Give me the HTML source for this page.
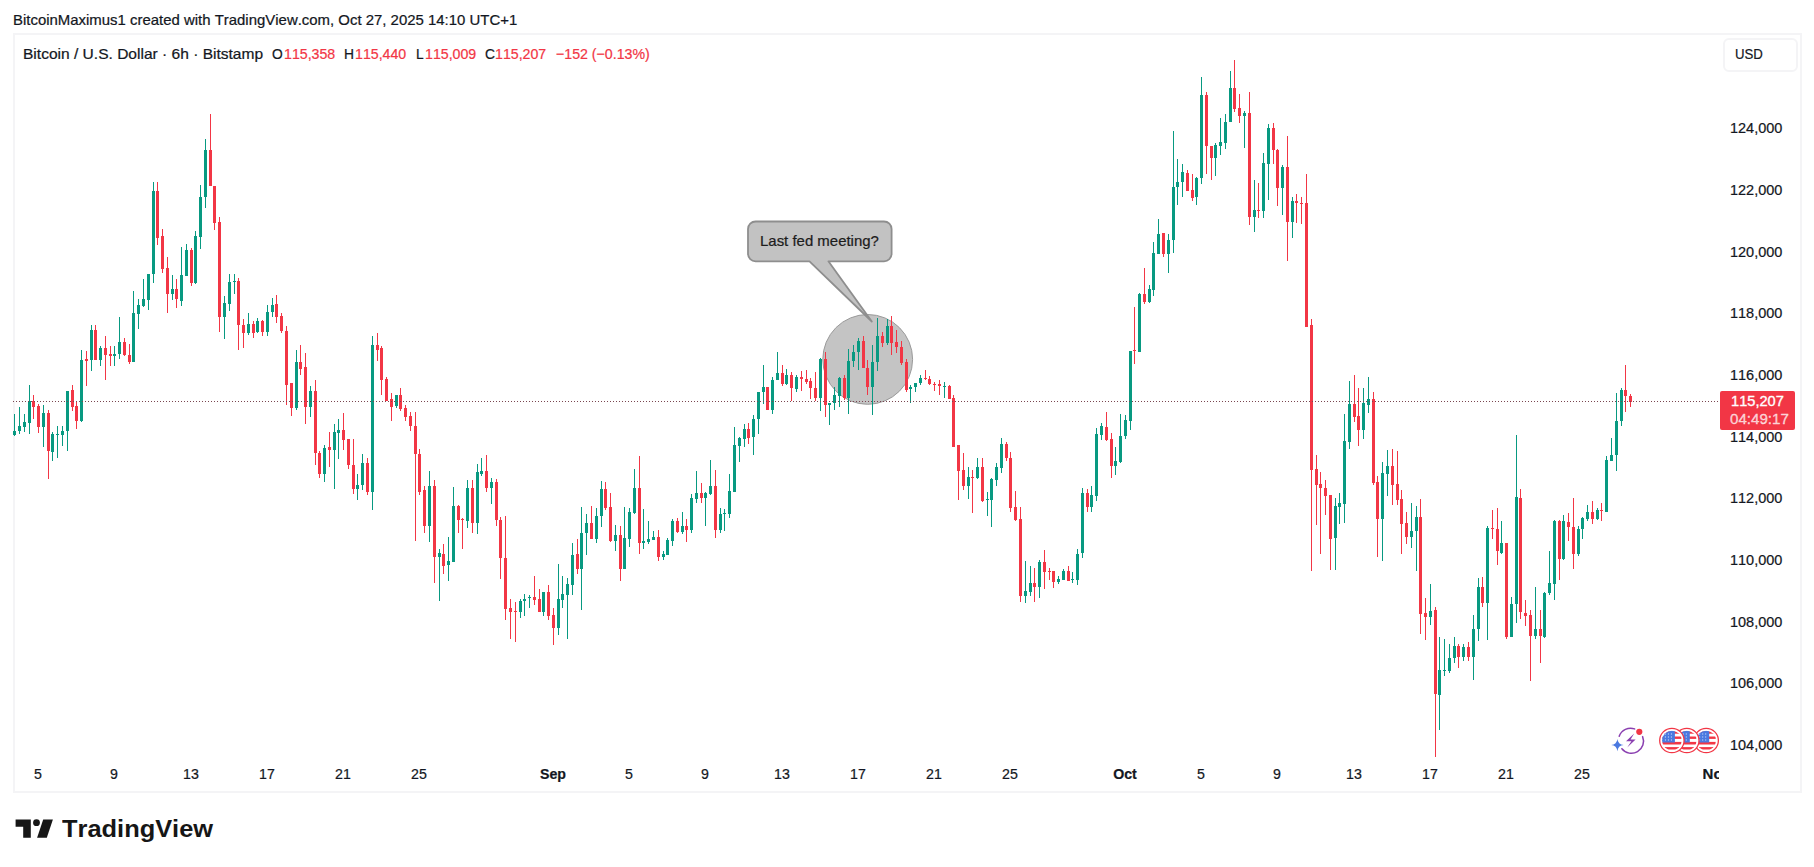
<!DOCTYPE html>
<html><head><meta charset="utf-8"><title>BTCUSD chart</title>
<style>
html,body{margin:0;padding:0;background:#fff;}
body{width:1814px;height:867px;position:relative;overflow:hidden;font-family:"Liberation Sans",sans-serif;}
.t{position:absolute;white-space:nowrap;font-kerning:none;-webkit-text-stroke:0.22px currentColor;}
#plv,#plt{-webkit-text-stroke:0.35px currentColor;}
#logo{-webkit-text-stroke:0;}
#frame{position:absolute;left:12.5px;top:33px;width:1785.5px;height:756px;border:2px solid #f4f4f6;}
#usdbox{position:absolute;left:1723px;top:38px;width:71px;height:30px;border:2px solid #f4f4f6;border-radius:6px;}
#plabel{position:absolute;left:1720px;top:391px;width:75px;height:38.6px;background:#f23645;border-radius:2px;}
#dots{position:absolute;left:13px;top:401px;width:1707px;height:1px;background:repeating-linear-gradient(90deg,#7a4650 0,#7a4650 1px,transparent 1px,transparent 3px);}
svg{position:absolute;left:0;top:0;}
#tclip{position:absolute;left:0;top:0;width:1814px;height:867px;}
#tnov{width:16.6px;overflow:hidden;}
</style></head><body>
<div id="frame"></div>
<div id="usdbox"></div>
<svg width="1814" height="867" viewBox="0 0 1814 867" shape-rendering="crispEdges">
<g shape-rendering="geometricPrecision">
<circle cx="867.7" cy="359.4" r="44.9" fill="#c4c4c4" stroke="#9a9a9a" stroke-width="1"/>
<path d="M755.6,221.5 H884 a7.6,7.6 0 0 1 7.6,7.6 v24.6 a7.6,7.6 0 0 1 -7.6,7.6 H828.4 L871.8,321.5 L809.5,261.3 H755.6 a7.6,7.6 0 0 1 -7.6,-7.6 v-24.6 a7.6,7.6 0 0 1 7.6,-7.6 z" fill="#c2c2c2" stroke="#8e8e8e" stroke-width="1.8" stroke-linejoin="round"/>
</g>
<clipPath id="cc"><rect x="13" y="35" width="1707" height="756"/></clipPath>
<g clip-path="url(#cc)">
<rect x="14" y="414" width="1" height="22" fill="#089981"/>
<rect x="13" y="431" width="3" height="4" fill="#089981"/>
<rect x="19" y="407" width="1" height="27" fill="#089981"/>
<rect x="18" y="426" width="3" height="5" fill="#089981"/>
<rect x="24" y="414" width="1" height="18" fill="#089981"/>
<rect x="23" y="422" width="3" height="5" fill="#089981"/>
<rect x="29" y="385" width="1" height="49" fill="#089981"/>
<rect x="28" y="401" width="3" height="22" fill="#089981"/>
<rect x="33" y="395" width="1" height="24" fill="#f23645"/>
<rect x="32" y="401" width="3" height="6" fill="#f23645"/>
<rect x="38" y="404" width="1" height="29" fill="#f23645"/>
<rect x="37" y="406" width="3" height="21" fill="#f23645"/>
<rect x="43" y="405" width="1" height="42" fill="#089981"/>
<rect x="42" y="413" width="3" height="14" fill="#089981"/>
<rect x="48" y="410" width="1" height="69" fill="#f23645"/>
<rect x="47" y="413" width="3" height="38" fill="#f23645"/>
<rect x="52" y="432" width="1" height="29" fill="#089981"/>
<rect x="51" y="434" width="3" height="18" fill="#089981"/>
<rect x="57" y="426" width="1" height="32" fill="#089981"/>
<rect x="56" y="434" width="3" height="1" fill="#089981"/>
<rect x="62" y="426" width="1" height="20" fill="#089981"/>
<rect x="61" y="431" width="3" height="4" fill="#089981"/>
<rect x="67" y="391" width="1" height="60" fill="#089981"/>
<rect x="66" y="391" width="3" height="40" fill="#089981"/>
<rect x="72" y="385" width="1" height="26" fill="#f23645"/>
<rect x="71" y="390" width="3" height="17" fill="#f23645"/>
<rect x="76" y="401" width="1" height="28" fill="#f23645"/>
<rect x="75" y="406" width="3" height="15" fill="#f23645"/>
<rect x="81" y="350" width="1" height="72" fill="#089981"/>
<rect x="80" y="360" width="3" height="61" fill="#089981"/>
<rect x="86" y="351" width="1" height="35" fill="#f23645"/>
<rect x="85" y="359" width="3" height="2" fill="#f23645"/>
<rect x="91" y="325" width="1" height="46" fill="#089981"/>
<rect x="90" y="330" width="3" height="30" fill="#089981"/>
<rect x="95" y="325" width="1" height="35" fill="#f23645"/>
<rect x="94" y="330" width="3" height="30" fill="#f23645"/>
<rect x="100" y="346" width="1" height="20" fill="#089981"/>
<rect x="99" y="348" width="3" height="12" fill="#089981"/>
<rect x="105" y="336" width="1" height="44" fill="#f23645"/>
<rect x="104" y="348" width="3" height="7" fill="#f23645"/>
<rect x="110" y="346" width="1" height="20" fill="#f23645"/>
<rect x="109" y="354" width="3" height="2" fill="#f23645"/>
<rect x="114" y="346" width="1" height="20" fill="#089981"/>
<rect x="113" y="354" width="3" height="2" fill="#089981"/>
<rect x="119" y="317" width="1" height="42" fill="#089981"/>
<rect x="118" y="342" width="3" height="12" fill="#089981"/>
<rect x="124" y="338" width="1" height="18" fill="#f23645"/>
<rect x="123" y="342" width="3" height="13" fill="#f23645"/>
<rect x="129" y="344" width="1" height="20" fill="#f23645"/>
<rect x="128" y="355" width="3" height="7" fill="#f23645"/>
<rect x="133" y="291" width="1" height="71" fill="#089981"/>
<rect x="132" y="313" width="3" height="49" fill="#089981"/>
<rect x="138" y="299" width="1" height="30" fill="#089981"/>
<rect x="137" y="305" width="3" height="9" fill="#089981"/>
<rect x="143" y="279" width="1" height="28" fill="#089981"/>
<rect x="142" y="299" width="3" height="7" fill="#089981"/>
<rect x="148" y="274" width="1" height="36" fill="#089981"/>
<rect x="147" y="274" width="3" height="26" fill="#089981"/>
<rect x="153" y="182" width="1" height="101" fill="#089981"/>
<rect x="152" y="191" width="3" height="83" fill="#089981"/>
<rect x="157" y="182" width="1" height="63" fill="#f23645"/>
<rect x="156" y="191" width="3" height="47" fill="#f23645"/>
<rect x="162" y="229" width="1" height="44" fill="#f23645"/>
<rect x="161" y="236" width="3" height="33" fill="#f23645"/>
<rect x="167" y="257" width="1" height="56" fill="#f23645"/>
<rect x="166" y="268" width="3" height="26" fill="#f23645"/>
<rect x="172" y="275" width="1" height="25" fill="#089981"/>
<rect x="171" y="289" width="3" height="5" fill="#089981"/>
<rect x="176" y="279" width="1" height="29" fill="#f23645"/>
<rect x="175" y="289" width="3" height="10" fill="#f23645"/>
<rect x="181" y="247" width="1" height="59" fill="#089981"/>
<rect x="180" y="275" width="3" height="26" fill="#089981"/>
<rect x="186" y="244" width="1" height="32" fill="#089981"/>
<rect x="185" y="250" width="3" height="26" fill="#089981"/>
<rect x="191" y="248" width="1" height="38" fill="#f23645"/>
<rect x="190" y="250" width="3" height="33" fill="#f23645"/>
<rect x="195" y="231" width="1" height="53" fill="#089981"/>
<rect x="194" y="236" width="3" height="47" fill="#089981"/>
<rect x="200" y="185" width="1" height="64" fill="#089981"/>
<rect x="199" y="197" width="3" height="40" fill="#089981"/>
<rect x="205" y="139" width="1" height="69" fill="#089981"/>
<rect x="204" y="150" width="3" height="47" fill="#089981"/>
<rect x="210" y="114" width="1" height="72" fill="#f23645"/>
<rect x="209" y="150" width="3" height="36" fill="#f23645"/>
<rect x="214" y="186" width="1" height="44" fill="#f23645"/>
<rect x="213" y="186" width="3" height="37" fill="#f23645"/>
<rect x="219" y="217" width="1" height="115" fill="#f23645"/>
<rect x="218" y="222" width="3" height="95" fill="#f23645"/>
<rect x="224" y="296" width="1" height="43" fill="#089981"/>
<rect x="223" y="303" width="3" height="14" fill="#089981"/>
<rect x="229" y="274" width="1" height="37" fill="#089981"/>
<rect x="228" y="282" width="3" height="22" fill="#089981"/>
<rect x="234" y="274" width="1" height="20" fill="#089981"/>
<rect x="233" y="281" width="3" height="1" fill="#089981"/>
<rect x="238" y="278" width="1" height="72" fill="#f23645"/>
<rect x="237" y="281" width="3" height="44" fill="#f23645"/>
<rect x="243" y="319" width="1" height="29" fill="#f23645"/>
<rect x="242" y="325" width="3" height="8" fill="#f23645"/>
<rect x="248" y="313" width="1" height="22" fill="#089981"/>
<rect x="247" y="324" width="3" height="9" fill="#089981"/>
<rect x="253" y="321" width="1" height="17" fill="#f23645"/>
<rect x="252" y="324" width="3" height="9" fill="#f23645"/>
<rect x="257" y="318" width="1" height="15" fill="#089981"/>
<rect x="256" y="321" width="3" height="11" fill="#089981"/>
<rect x="262" y="320" width="1" height="16" fill="#f23645"/>
<rect x="261" y="321" width="3" height="11" fill="#f23645"/>
<rect x="267" y="305" width="1" height="31" fill="#089981"/>
<rect x="266" y="312" width="3" height="20" fill="#089981"/>
<rect x="272" y="298" width="1" height="19" fill="#089981"/>
<rect x="271" y="305" width="3" height="7" fill="#089981"/>
<rect x="276" y="295" width="1" height="28" fill="#f23645"/>
<rect x="275" y="304" width="3" height="13" fill="#f23645"/>
<rect x="281" y="313" width="1" height="20" fill="#f23645"/>
<rect x="280" y="316" width="3" height="15" fill="#f23645"/>
<rect x="286" y="326" width="1" height="79" fill="#f23645"/>
<rect x="285" y="331" width="3" height="54" fill="#f23645"/>
<rect x="291" y="383" width="1" height="33" fill="#f23645"/>
<rect x="290" y="383" width="3" height="25" fill="#f23645"/>
<rect x="296" y="350" width="1" height="60" fill="#089981"/>
<rect x="295" y="362" width="3" height="46" fill="#089981"/>
<rect x="300" y="345" width="1" height="30" fill="#f23645"/>
<rect x="299" y="362" width="3" height="7" fill="#f23645"/>
<rect x="305" y="353" width="1" height="71" fill="#f23645"/>
<rect x="304" y="367" width="3" height="40" fill="#f23645"/>
<rect x="310" y="386" width="1" height="31" fill="#089981"/>
<rect x="309" y="391" width="3" height="16" fill="#089981"/>
<rect x="315" y="380" width="1" height="85" fill="#f23645"/>
<rect x="314" y="391" width="3" height="62" fill="#f23645"/>
<rect x="319" y="451" width="1" height="27" fill="#f23645"/>
<rect x="318" y="453" width="3" height="21" fill="#f23645"/>
<rect x="324" y="445" width="1" height="37" fill="#089981"/>
<rect x="323" y="448" width="3" height="26" fill="#089981"/>
<rect x="329" y="432" width="1" height="35" fill="#f23645"/>
<rect x="328" y="447" width="3" height="3" fill="#f23645"/>
<rect x="334" y="424" width="1" height="65" fill="#089981"/>
<rect x="333" y="432" width="3" height="18" fill="#089981"/>
<rect x="338" y="419" width="1" height="40" fill="#089981"/>
<rect x="337" y="430" width="3" height="3" fill="#089981"/>
<rect x="343" y="413" width="1" height="37" fill="#f23645"/>
<rect x="342" y="430" width="3" height="10" fill="#f23645"/>
<rect x="348" y="439" width="1" height="30" fill="#f23645"/>
<rect x="347" y="439" width="3" height="26" fill="#f23645"/>
<rect x="353" y="439" width="1" height="55" fill="#f23645"/>
<rect x="352" y="465" width="3" height="24" fill="#f23645"/>
<rect x="357" y="474" width="1" height="26" fill="#089981"/>
<rect x="356" y="485" width="3" height="4" fill="#089981"/>
<rect x="362" y="454" width="1" height="36" fill="#089981"/>
<rect x="361" y="463" width="3" height="22" fill="#089981"/>
<rect x="367" y="458" width="1" height="37" fill="#f23645"/>
<rect x="366" y="463" width="3" height="29" fill="#f23645"/>
<rect x="372" y="336" width="1" height="174" fill="#089981"/>
<rect x="371" y="345" width="3" height="147" fill="#089981"/>
<rect x="377" y="333" width="1" height="28" fill="#f23645"/>
<rect x="376" y="345" width="3" height="5" fill="#f23645"/>
<rect x="381" y="346" width="1" height="49" fill="#f23645"/>
<rect x="380" y="348" width="3" height="32" fill="#f23645"/>
<rect x="386" y="377" width="1" height="24" fill="#f23645"/>
<rect x="385" y="379" width="3" height="22" fill="#f23645"/>
<rect x="391" y="393" width="1" height="28" fill="#f23645"/>
<rect x="390" y="399" width="3" height="8" fill="#f23645"/>
<rect x="396" y="395" width="1" height="13" fill="#089981"/>
<rect x="395" y="395" width="3" height="11" fill="#089981"/>
<rect x="400" y="388" width="1" height="23" fill="#f23645"/>
<rect x="399" y="395" width="3" height="14" fill="#f23645"/>
<rect x="405" y="405" width="1" height="16" fill="#f23645"/>
<rect x="404" y="408" width="3" height="9" fill="#f23645"/>
<rect x="410" y="412" width="1" height="19" fill="#f23645"/>
<rect x="409" y="416" width="3" height="10" fill="#f23645"/>
<rect x="415" y="412" width="1" height="129" fill="#f23645"/>
<rect x="414" y="426" width="3" height="28" fill="#f23645"/>
<rect x="419" y="449" width="1" height="46" fill="#f23645"/>
<rect x="418" y="454" width="3" height="38" fill="#f23645"/>
<rect x="424" y="486" width="1" height="47" fill="#f23645"/>
<rect x="423" y="490" width="3" height="36" fill="#f23645"/>
<rect x="429" y="471" width="1" height="71" fill="#089981"/>
<rect x="428" y="486" width="3" height="40" fill="#089981"/>
<rect x="434" y="480" width="1" height="103" fill="#f23645"/>
<rect x="433" y="486" width="3" height="71" fill="#f23645"/>
<rect x="439" y="549" width="1" height="52" fill="#089981"/>
<rect x="438" y="553" width="3" height="4" fill="#089981"/>
<rect x="443" y="544" width="1" height="30" fill="#f23645"/>
<rect x="442" y="554" width="3" height="12" fill="#f23645"/>
<rect x="448" y="537" width="1" height="44" fill="#089981"/>
<rect x="447" y="561" width="3" height="4" fill="#089981"/>
<rect x="453" y="487" width="1" height="75" fill="#089981"/>
<rect x="452" y="506" width="3" height="56" fill="#089981"/>
<rect x="458" y="505" width="1" height="28" fill="#f23645"/>
<rect x="457" y="506" width="3" height="14" fill="#f23645"/>
<rect x="462" y="518" width="1" height="31" fill="#f23645"/>
<rect x="461" y="519" width="3" height="1" fill="#f23645"/>
<rect x="467" y="480" width="1" height="48" fill="#089981"/>
<rect x="466" y="488" width="3" height="33" fill="#089981"/>
<rect x="472" y="480" width="1" height="53" fill="#f23645"/>
<rect x="471" y="488" width="3" height="35" fill="#f23645"/>
<rect x="477" y="464" width="1" height="70" fill="#089981"/>
<rect x="476" y="472" width="3" height="51" fill="#089981"/>
<rect x="481" y="458" width="1" height="18" fill="#089981"/>
<rect x="480" y="471" width="3" height="3" fill="#089981"/>
<rect x="486" y="455" width="1" height="37" fill="#f23645"/>
<rect x="485" y="471" width="3" height="17" fill="#f23645"/>
<rect x="491" y="478" width="1" height="26" fill="#089981"/>
<rect x="490" y="482" width="3" height="6" fill="#089981"/>
<rect x="496" y="479" width="1" height="47" fill="#f23645"/>
<rect x="495" y="482" width="3" height="38" fill="#f23645"/>
<rect x="500" y="517" width="1" height="62" fill="#f23645"/>
<rect x="499" y="520" width="3" height="38" fill="#f23645"/>
<rect x="505" y="516" width="1" height="104" fill="#f23645"/>
<rect x="504" y="558" width="3" height="51" fill="#f23645"/>
<rect x="510" y="599" width="1" height="40" fill="#f23645"/>
<rect x="509" y="608" width="3" height="4" fill="#f23645"/>
<rect x="515" y="602" width="1" height="40" fill="#f23645"/>
<rect x="514" y="611" width="3" height="1" fill="#f23645"/>
<rect x="520" y="599" width="1" height="19" fill="#089981"/>
<rect x="519" y="601" width="3" height="11" fill="#089981"/>
<rect x="524" y="594" width="1" height="22" fill="#089981"/>
<rect x="523" y="599" width="3" height="2" fill="#089981"/>
<rect x="529" y="595" width="1" height="13" fill="#089981"/>
<rect x="528" y="597" width="3" height="1" fill="#089981"/>
<rect x="534" y="576" width="1" height="29" fill="#f23645"/>
<rect x="533" y="597" width="3" height="3" fill="#f23645"/>
<rect x="539" y="589" width="1" height="23" fill="#f23645"/>
<rect x="538" y="599" width="3" height="13" fill="#f23645"/>
<rect x="543" y="592" width="1" height="24" fill="#089981"/>
<rect x="542" y="592" width="3" height="20" fill="#089981"/>
<rect x="548" y="585" width="1" height="35" fill="#f23645"/>
<rect x="547" y="592" width="3" height="24" fill="#f23645"/>
<rect x="553" y="608" width="1" height="37" fill="#f23645"/>
<rect x="552" y="615" width="3" height="13" fill="#f23645"/>
<rect x="558" y="564" width="1" height="71" fill="#089981"/>
<rect x="557" y="599" width="3" height="29" fill="#089981"/>
<rect x="562" y="576" width="1" height="32" fill="#089981"/>
<rect x="561" y="594" width="3" height="6" fill="#089981"/>
<rect x="567" y="578" width="1" height="61" fill="#089981"/>
<rect x="566" y="584" width="3" height="11" fill="#089981"/>
<rect x="572" y="543" width="1" height="52" fill="#089981"/>
<rect x="571" y="555" width="3" height="30" fill="#089981"/>
<rect x="577" y="539" width="1" height="35" fill="#f23645"/>
<rect x="576" y="554" width="3" height="15" fill="#f23645"/>
<rect x="581" y="507" width="1" height="103" fill="#089981"/>
<rect x="580" y="533" width="3" height="36" fill="#089981"/>
<rect x="586" y="514" width="1" height="41" fill="#089981"/>
<rect x="585" y="523" width="3" height="10" fill="#089981"/>
<rect x="591" y="506" width="1" height="33" fill="#f23645"/>
<rect x="590" y="523" width="3" height="16" fill="#f23645"/>
<rect x="596" y="508" width="1" height="35" fill="#089981"/>
<rect x="595" y="516" width="3" height="23" fill="#089981"/>
<rect x="601" y="481" width="1" height="46" fill="#089981"/>
<rect x="600" y="489" width="3" height="27" fill="#089981"/>
<rect x="605" y="482" width="1" height="28" fill="#f23645"/>
<rect x="604" y="489" width="3" height="19" fill="#f23645"/>
<rect x="610" y="493" width="1" height="49" fill="#f23645"/>
<rect x="609" y="507" width="3" height="34" fill="#f23645"/>
<rect x="615" y="525" width="1" height="26" fill="#089981"/>
<rect x="614" y="535" width="3" height="6" fill="#089981"/>
<rect x="620" y="526" width="1" height="55" fill="#f23645"/>
<rect x="619" y="535" width="3" height="34" fill="#f23645"/>
<rect x="624" y="507" width="1" height="62" fill="#089981"/>
<rect x="623" y="538" width="3" height="31" fill="#089981"/>
<rect x="629" y="508" width="1" height="39" fill="#089981"/>
<rect x="628" y="512" width="3" height="27" fill="#089981"/>
<rect x="634" y="469" width="1" height="45" fill="#089981"/>
<rect x="633" y="488" width="3" height="25" fill="#089981"/>
<rect x="639" y="456" width="1" height="98" fill="#f23645"/>
<rect x="638" y="488" width="3" height="55" fill="#f23645"/>
<rect x="643" y="509" width="1" height="40" fill="#089981"/>
<rect x="642" y="541" width="3" height="2" fill="#089981"/>
<rect x="648" y="521" width="1" height="23" fill="#089981"/>
<rect x="647" y="539" width="3" height="3" fill="#089981"/>
<rect x="653" y="531" width="1" height="9" fill="#089981"/>
<rect x="652" y="537" width="3" height="3" fill="#089981"/>
<rect x="658" y="530" width="1" height="31" fill="#f23645"/>
<rect x="657" y="537" width="3" height="20" fill="#f23645"/>
<rect x="663" y="551" width="1" height="9" fill="#089981"/>
<rect x="662" y="554" width="3" height="3" fill="#089981"/>
<rect x="667" y="538" width="1" height="17" fill="#089981"/>
<rect x="666" y="540" width="3" height="15" fill="#089981"/>
<rect x="672" y="519" width="1" height="27" fill="#089981"/>
<rect x="671" y="521" width="3" height="20" fill="#089981"/>
<rect x="677" y="518" width="1" height="15" fill="#f23645"/>
<rect x="676" y="521" width="3" height="11" fill="#f23645"/>
<rect x="682" y="512" width="1" height="22" fill="#089981"/>
<rect x="681" y="526" width="3" height="6" fill="#089981"/>
<rect x="686" y="519" width="1" height="23" fill="#f23645"/>
<rect x="685" y="526" width="3" height="4" fill="#f23645"/>
<rect x="691" y="494" width="1" height="39" fill="#089981"/>
<rect x="690" y="498" width="3" height="32" fill="#089981"/>
<rect x="696" y="471" width="1" height="32" fill="#089981"/>
<rect x="695" y="493" width="3" height="6" fill="#089981"/>
<rect x="701" y="483" width="1" height="20" fill="#f23645"/>
<rect x="700" y="493" width="3" height="5" fill="#f23645"/>
<rect x="705" y="492" width="1" height="34" fill="#089981"/>
<rect x="704" y="493" width="3" height="5" fill="#089981"/>
<rect x="710" y="460" width="1" height="35" fill="#089981"/>
<rect x="709" y="486" width="3" height="8" fill="#089981"/>
<rect x="715" y="470" width="1" height="68" fill="#f23645"/>
<rect x="714" y="486" width="3" height="44" fill="#f23645"/>
<rect x="720" y="508" width="1" height="25" fill="#089981"/>
<rect x="719" y="514" width="3" height="16" fill="#089981"/>
<rect x="724" y="509" width="1" height="22" fill="#089981"/>
<rect x="723" y="513" width="3" height="1" fill="#089981"/>
<rect x="729" y="474" width="1" height="44" fill="#089981"/>
<rect x="728" y="491" width="3" height="23" fill="#089981"/>
<rect x="734" y="427" width="1" height="65" fill="#089981"/>
<rect x="733" y="445" width="3" height="47" fill="#089981"/>
<rect x="739" y="437" width="1" height="25" fill="#089981"/>
<rect x="738" y="438" width="3" height="8" fill="#089981"/>
<rect x="744" y="424" width="1" height="23" fill="#089981"/>
<rect x="743" y="429" width="3" height="10" fill="#089981"/>
<rect x="748" y="423" width="1" height="21" fill="#f23645"/>
<rect x="747" y="429" width="3" height="9" fill="#f23645"/>
<rect x="753" y="415" width="1" height="40" fill="#089981"/>
<rect x="752" y="419" width="3" height="18" fill="#089981"/>
<rect x="758" y="392" width="1" height="42" fill="#089981"/>
<rect x="757" y="392" width="3" height="27" fill="#089981"/>
<rect x="763" y="365" width="1" height="39" fill="#089981"/>
<rect x="762" y="387" width="3" height="5" fill="#089981"/>
<rect x="767" y="387" width="1" height="23" fill="#f23645"/>
<rect x="766" y="387" width="3" height="23" fill="#f23645"/>
<rect x="772" y="377" width="1" height="37" fill="#089981"/>
<rect x="771" y="380" width="3" height="30" fill="#089981"/>
<rect x="777" y="352" width="1" height="28" fill="#089981"/>
<rect x="776" y="373" width="3" height="7" fill="#089981"/>
<rect x="782" y="365" width="1" height="21" fill="#f23645"/>
<rect x="781" y="373" width="3" height="11" fill="#f23645"/>
<rect x="786" y="369" width="1" height="16" fill="#089981"/>
<rect x="785" y="375" width="3" height="9" fill="#089981"/>
<rect x="791" y="372" width="1" height="29" fill="#f23645"/>
<rect x="790" y="375" width="3" height="13" fill="#f23645"/>
<rect x="796" y="375" width="1" height="17" fill="#089981"/>
<rect x="795" y="377" width="3" height="12" fill="#089981"/>
<rect x="801" y="371" width="1" height="20" fill="#f23645"/>
<rect x="800" y="377" width="3" height="2" fill="#f23645"/>
<rect x="806" y="370" width="1" height="14" fill="#f23645"/>
<rect x="805" y="379" width="3" height="3" fill="#f23645"/>
<rect x="810" y="378" width="1" height="21" fill="#f23645"/>
<rect x="809" y="381" width="3" height="7" fill="#f23645"/>
<rect x="815" y="372" width="1" height="29" fill="#f23645"/>
<rect x="814" y="388" width="3" height="10" fill="#f23645"/>
<rect x="820" y="358" width="1" height="53" fill="#089981"/>
<rect x="819" y="359" width="3" height="39" fill="#089981"/>
<rect x="825" y="352" width="1" height="65" fill="#f23645"/>
<rect x="824" y="359" width="3" height="46" fill="#f23645"/>
<rect x="829" y="403" width="1" height="22" fill="#089981"/>
<rect x="828" y="403" width="3" height="2" fill="#089981"/>
<rect x="834" y="387" width="1" height="23" fill="#089981"/>
<rect x="833" y="395" width="3" height="8" fill="#089981"/>
<rect x="839" y="377" width="1" height="30" fill="#089981"/>
<rect x="838" y="378" width="3" height="18" fill="#089981"/>
<rect x="844" y="375" width="1" height="25" fill="#f23645"/>
<rect x="843" y="378" width="3" height="20" fill="#f23645"/>
<rect x="848" y="349" width="1" height="65" fill="#089981"/>
<rect x="847" y="361" width="3" height="37" fill="#089981"/>
<rect x="853" y="345" width="1" height="22" fill="#089981"/>
<rect x="852" y="352" width="3" height="9" fill="#089981"/>
<rect x="858" y="338" width="1" height="32" fill="#089981"/>
<rect x="857" y="341" width="3" height="11" fill="#089981"/>
<rect x="863" y="336" width="1" height="32" fill="#f23645"/>
<rect x="862" y="341" width="3" height="27" fill="#f23645"/>
<rect x="867" y="360" width="1" height="35" fill="#f23645"/>
<rect x="866" y="368" width="3" height="19" fill="#f23645"/>
<rect x="872" y="345" width="1" height="70" fill="#089981"/>
<rect x="871" y="362" width="3" height="25" fill="#089981"/>
<rect x="877" y="318" width="1" height="53" fill="#089981"/>
<rect x="876" y="336" width="3" height="26" fill="#089981"/>
<rect x="882" y="332" width="1" height="15" fill="#f23645"/>
<rect x="881" y="336" width="3" height="7" fill="#f23645"/>
<rect x="887" y="319" width="1" height="26" fill="#089981"/>
<rect x="886" y="326" width="3" height="17" fill="#089981"/>
<rect x="891" y="316" width="1" height="39" fill="#f23645"/>
<rect x="890" y="326" width="3" height="17" fill="#f23645"/>
<rect x="896" y="330" width="1" height="23" fill="#f23645"/>
<rect x="895" y="342" width="3" height="5" fill="#f23645"/>
<rect x="901" y="341" width="1" height="24" fill="#f23645"/>
<rect x="900" y="347" width="3" height="16" fill="#f23645"/>
<rect x="906" y="359" width="1" height="33" fill="#f23645"/>
<rect x="905" y="362" width="3" height="28" fill="#f23645"/>
<rect x="910" y="385" width="1" height="18" fill="#089981"/>
<rect x="909" y="387" width="3" height="2" fill="#089981"/>
<rect x="915" y="383" width="1" height="9" fill="#089981"/>
<rect x="914" y="383" width="3" height="4" fill="#089981"/>
<rect x="920" y="375" width="1" height="10" fill="#089981"/>
<rect x="919" y="378" width="3" height="5" fill="#089981"/>
<rect x="925" y="370" width="1" height="10" fill="#f23645"/>
<rect x="924" y="378" width="3" height="1" fill="#f23645"/>
<rect x="929" y="376" width="1" height="9" fill="#f23645"/>
<rect x="928" y="379" width="3" height="5" fill="#f23645"/>
<rect x="934" y="382" width="1" height="9" fill="#f23645"/>
<rect x="933" y="384" width="3" height="1" fill="#f23645"/>
<rect x="939" y="380" width="1" height="15" fill="#f23645"/>
<rect x="938" y="384" width="3" height="2" fill="#f23645"/>
<rect x="944" y="382" width="1" height="16" fill="#089981"/>
<rect x="943" y="386" width="3" height="1" fill="#089981"/>
<rect x="949" y="385" width="1" height="14" fill="#f23645"/>
<rect x="948" y="386" width="3" height="13" fill="#f23645"/>
<rect x="953" y="395" width="1" height="52" fill="#f23645"/>
<rect x="952" y="398" width="3" height="49" fill="#f23645"/>
<rect x="958" y="445" width="1" height="55" fill="#f23645"/>
<rect x="957" y="445" width="3" height="26" fill="#f23645"/>
<rect x="963" y="453" width="1" height="37" fill="#f23645"/>
<rect x="962" y="470" width="3" height="16" fill="#f23645"/>
<rect x="968" y="467" width="1" height="32" fill="#089981"/>
<rect x="967" y="477" width="3" height="9" fill="#089981"/>
<rect x="972" y="470" width="1" height="43" fill="#f23645"/>
<rect x="971" y="477" width="3" height="1" fill="#f23645"/>
<rect x="977" y="458" width="1" height="21" fill="#089981"/>
<rect x="976" y="467" width="3" height="11" fill="#089981"/>
<rect x="982" y="458" width="1" height="44" fill="#f23645"/>
<rect x="981" y="467" width="3" height="34" fill="#f23645"/>
<rect x="987" y="492" width="1" height="24" fill="#089981"/>
<rect x="986" y="499" width="3" height="1" fill="#089981"/>
<rect x="991" y="478" width="1" height="49" fill="#089981"/>
<rect x="990" y="479" width="3" height="21" fill="#089981"/>
<rect x="996" y="463" width="1" height="23" fill="#089981"/>
<rect x="995" y="467" width="3" height="13" fill="#089981"/>
<rect x="1001" y="438" width="1" height="35" fill="#089981"/>
<rect x="1000" y="444" width="3" height="24" fill="#089981"/>
<rect x="1006" y="442" width="1" height="19" fill="#f23645"/>
<rect x="1005" y="444" width="3" height="14" fill="#f23645"/>
<rect x="1010" y="452" width="1" height="60" fill="#f23645"/>
<rect x="1009" y="458" width="3" height="50" fill="#f23645"/>
<rect x="1015" y="491" width="1" height="30" fill="#f23645"/>
<rect x="1014" y="507" width="3" height="13" fill="#f23645"/>
<rect x="1020" y="507" width="1" height="95" fill="#f23645"/>
<rect x="1019" y="519" width="3" height="77" fill="#f23645"/>
<rect x="1025" y="561" width="1" height="42" fill="#089981"/>
<rect x="1024" y="591" width="3" height="5" fill="#089981"/>
<rect x="1030" y="566" width="1" height="30" fill="#089981"/>
<rect x="1029" y="583" width="3" height="9" fill="#089981"/>
<rect x="1034" y="568" width="1" height="34" fill="#f23645"/>
<rect x="1033" y="583" width="3" height="4" fill="#f23645"/>
<rect x="1039" y="560" width="1" height="38" fill="#089981"/>
<rect x="1038" y="562" width="3" height="25" fill="#089981"/>
<rect x="1044" y="550" width="1" height="39" fill="#f23645"/>
<rect x="1043" y="562" width="3" height="10" fill="#f23645"/>
<rect x="1049" y="568" width="1" height="12" fill="#f23645"/>
<rect x="1048" y="571" width="3" height="1" fill="#f23645"/>
<rect x="1053" y="571" width="1" height="17" fill="#f23645"/>
<rect x="1052" y="571" width="3" height="11" fill="#f23645"/>
<rect x="1058" y="576" width="1" height="8" fill="#089981"/>
<rect x="1057" y="579" width="3" height="3" fill="#089981"/>
<rect x="1063" y="569" width="1" height="11" fill="#089981"/>
<rect x="1062" y="571" width="3" height="9" fill="#089981"/>
<rect x="1068" y="566" width="1" height="15" fill="#f23645"/>
<rect x="1067" y="571" width="3" height="10" fill="#f23645"/>
<rect x="1072" y="572" width="1" height="11" fill="#089981"/>
<rect x="1071" y="579" width="3" height="1" fill="#089981"/>
<rect x="1077" y="549" width="1" height="36" fill="#089981"/>
<rect x="1076" y="554" width="3" height="26" fill="#089981"/>
<rect x="1082" y="488" width="1" height="70" fill="#089981"/>
<rect x="1081" y="493" width="3" height="60" fill="#089981"/>
<rect x="1087" y="489" width="1" height="23" fill="#f23645"/>
<rect x="1086" y="493" width="3" height="14" fill="#f23645"/>
<rect x="1091" y="486" width="1" height="26" fill="#089981"/>
<rect x="1090" y="495" width="3" height="12" fill="#089981"/>
<rect x="1096" y="428" width="1" height="73" fill="#089981"/>
<rect x="1095" y="434" width="3" height="62" fill="#089981"/>
<rect x="1101" y="423" width="1" height="17" fill="#089981"/>
<rect x="1100" y="426" width="3" height="9" fill="#089981"/>
<rect x="1106" y="412" width="1" height="29" fill="#f23645"/>
<rect x="1105" y="427" width="3" height="13" fill="#f23645"/>
<rect x="1111" y="433" width="1" height="45" fill="#f23645"/>
<rect x="1110" y="439" width="3" height="27" fill="#f23645"/>
<rect x="1115" y="447" width="1" height="28" fill="#089981"/>
<rect x="1114" y="461" width="3" height="5" fill="#089981"/>
<rect x="1120" y="414" width="1" height="49" fill="#089981"/>
<rect x="1119" y="436" width="3" height="26" fill="#089981"/>
<rect x="1125" y="415" width="1" height="24" fill="#089981"/>
<rect x="1124" y="420" width="3" height="16" fill="#089981"/>
<rect x="1130" y="351" width="1" height="79" fill="#089981"/>
<rect x="1129" y="351" width="3" height="70" fill="#089981"/>
<rect x="1134" y="307" width="1" height="57" fill="#f23645"/>
<rect x="1133" y="350" width="3" height="1" fill="#f23645"/>
<rect x="1139" y="293" width="1" height="59" fill="#089981"/>
<rect x="1138" y="294" width="3" height="58" fill="#089981"/>
<rect x="1144" y="268" width="1" height="36" fill="#f23645"/>
<rect x="1143" y="294" width="3" height="8" fill="#f23645"/>
<rect x="1149" y="285" width="1" height="18" fill="#089981"/>
<rect x="1148" y="289" width="3" height="13" fill="#089981"/>
<rect x="1153" y="242" width="1" height="54" fill="#089981"/>
<rect x="1152" y="253" width="3" height="37" fill="#089981"/>
<rect x="1158" y="219" width="1" height="35" fill="#089981"/>
<rect x="1157" y="234" width="3" height="20" fill="#089981"/>
<rect x="1163" y="233" width="1" height="24" fill="#f23645"/>
<rect x="1162" y="233" width="3" height="21" fill="#f23645"/>
<rect x="1168" y="234" width="1" height="39" fill="#089981"/>
<rect x="1167" y="240" width="3" height="14" fill="#089981"/>
<rect x="1173" y="131" width="1" height="122" fill="#089981"/>
<rect x="1172" y="187" width="3" height="53" fill="#089981"/>
<rect x="1177" y="159" width="1" height="46" fill="#089981"/>
<rect x="1176" y="182" width="3" height="5" fill="#089981"/>
<rect x="1182" y="164" width="1" height="33" fill="#089981"/>
<rect x="1181" y="172" width="3" height="10" fill="#089981"/>
<rect x="1187" y="170" width="1" height="21" fill="#f23645"/>
<rect x="1186" y="173" width="3" height="18" fill="#f23645"/>
<rect x="1192" y="174" width="1" height="27" fill="#f23645"/>
<rect x="1191" y="190" width="3" height="8" fill="#f23645"/>
<rect x="1196" y="177" width="1" height="28" fill="#089981"/>
<rect x="1195" y="178" width="3" height="19" fill="#089981"/>
<rect x="1201" y="77" width="1" height="107" fill="#089981"/>
<rect x="1200" y="95" width="3" height="83" fill="#089981"/>
<rect x="1206" y="92" width="1" height="82" fill="#f23645"/>
<rect x="1205" y="95" width="3" height="51" fill="#f23645"/>
<rect x="1211" y="146" width="1" height="34" fill="#f23645"/>
<rect x="1210" y="146" width="3" height="12" fill="#f23645"/>
<rect x="1215" y="143" width="1" height="33" fill="#089981"/>
<rect x="1214" y="145" width="3" height="13" fill="#089981"/>
<rect x="1220" y="118" width="1" height="37" fill="#089981"/>
<rect x="1219" y="142" width="3" height="4" fill="#089981"/>
<rect x="1225" y="114" width="1" height="35" fill="#089981"/>
<rect x="1224" y="122" width="3" height="21" fill="#089981"/>
<rect x="1230" y="71" width="1" height="51" fill="#089981"/>
<rect x="1229" y="88" width="3" height="34" fill="#089981"/>
<rect x="1234" y="60" width="1" height="52" fill="#f23645"/>
<rect x="1233" y="88" width="3" height="21" fill="#f23645"/>
<rect x="1239" y="94" width="1" height="29" fill="#f23645"/>
<rect x="1238" y="108" width="3" height="8" fill="#f23645"/>
<rect x="1244" y="111" width="1" height="37" fill="#089981"/>
<rect x="1243" y="113" width="3" height="3" fill="#089981"/>
<rect x="1249" y="92" width="1" height="133" fill="#f23645"/>
<rect x="1248" y="113" width="3" height="104" fill="#f23645"/>
<rect x="1254" y="180" width="1" height="52" fill="#089981"/>
<rect x="1253" y="210" width="3" height="7" fill="#089981"/>
<rect x="1258" y="183" width="1" height="35" fill="#f23645"/>
<rect x="1257" y="210" width="3" height="1" fill="#f23645"/>
<rect x="1263" y="153" width="1" height="65" fill="#089981"/>
<rect x="1262" y="163" width="3" height="48" fill="#089981"/>
<rect x="1268" y="124" width="1" height="76" fill="#089981"/>
<rect x="1267" y="128" width="3" height="36" fill="#089981"/>
<rect x="1273" y="123" width="1" height="41" fill="#f23645"/>
<rect x="1272" y="128" width="3" height="22" fill="#f23645"/>
<rect x="1277" y="149" width="1" height="57" fill="#f23645"/>
<rect x="1276" y="150" width="3" height="38" fill="#f23645"/>
<rect x="1282" y="165" width="1" height="50" fill="#089981"/>
<rect x="1281" y="167" width="3" height="21" fill="#089981"/>
<rect x="1287" y="136" width="1" height="125" fill="#f23645"/>
<rect x="1286" y="167" width="3" height="55" fill="#f23645"/>
<rect x="1292" y="197" width="1" height="41" fill="#089981"/>
<rect x="1291" y="201" width="3" height="21" fill="#089981"/>
<rect x="1296" y="194" width="1" height="29" fill="#f23645"/>
<rect x="1295" y="201" width="3" height="2" fill="#f23645"/>
<rect x="1301" y="197" width="1" height="27" fill="#f23645"/>
<rect x="1300" y="203" width="3" height="1" fill="#f23645"/>
<rect x="1306" y="174" width="1" height="153" fill="#f23645"/>
<rect x="1305" y="203" width="3" height="124" fill="#f23645"/>
<rect x="1311" y="319" width="1" height="252" fill="#f23645"/>
<rect x="1310" y="325" width="3" height="145" fill="#f23645"/>
<rect x="1316" y="455" width="1" height="70" fill="#f23645"/>
<rect x="1315" y="469" width="3" height="16" fill="#f23645"/>
<rect x="1320" y="472" width="1" height="82" fill="#f23645"/>
<rect x="1319" y="484" width="3" height="4" fill="#f23645"/>
<rect x="1325" y="480" width="1" height="35" fill="#f23645"/>
<rect x="1324" y="488" width="3" height="8" fill="#f23645"/>
<rect x="1330" y="495" width="1" height="75" fill="#f23645"/>
<rect x="1329" y="495" width="3" height="44" fill="#f23645"/>
<rect x="1335" y="498" width="1" height="72" fill="#089981"/>
<rect x="1334" y="506" width="3" height="32" fill="#089981"/>
<rect x="1339" y="493" width="1" height="31" fill="#089981"/>
<rect x="1338" y="503" width="3" height="4" fill="#089981"/>
<rect x="1344" y="414" width="1" height="109" fill="#089981"/>
<rect x="1343" y="441" width="3" height="63" fill="#089981"/>
<rect x="1349" y="381" width="1" height="68" fill="#089981"/>
<rect x="1348" y="404" width="3" height="38" fill="#089981"/>
<rect x="1354" y="375" width="1" height="47" fill="#f23645"/>
<rect x="1353" y="404" width="3" height="13" fill="#f23645"/>
<rect x="1358" y="388" width="1" height="58" fill="#f23645"/>
<rect x="1357" y="416" width="3" height="14" fill="#f23645"/>
<rect x="1363" y="388" width="1" height="51" fill="#089981"/>
<rect x="1362" y="403" width="3" height="27" fill="#089981"/>
<rect x="1368" y="377" width="1" height="36" fill="#089981"/>
<rect x="1367" y="399" width="3" height="6" fill="#089981"/>
<rect x="1373" y="392" width="1" height="93" fill="#f23645"/>
<rect x="1372" y="399" width="3" height="84" fill="#f23645"/>
<rect x="1377" y="476" width="1" height="81" fill="#f23645"/>
<rect x="1376" y="482" width="3" height="37" fill="#f23645"/>
<rect x="1382" y="462" width="1" height="99" fill="#089981"/>
<rect x="1381" y="473" width="3" height="46" fill="#089981"/>
<rect x="1387" y="450" width="1" height="46" fill="#089981"/>
<rect x="1386" y="466" width="3" height="8" fill="#089981"/>
<rect x="1392" y="449" width="1" height="56" fill="#f23645"/>
<rect x="1391" y="466" width="3" height="19" fill="#f23645"/>
<rect x="1397" y="451" width="1" height="54" fill="#f23645"/>
<rect x="1396" y="484" width="3" height="16" fill="#f23645"/>
<rect x="1401" y="490" width="1" height="64" fill="#f23645"/>
<rect x="1400" y="499" width="3" height="25" fill="#f23645"/>
<rect x="1406" y="512" width="1" height="32" fill="#f23645"/>
<rect x="1405" y="523" width="3" height="14" fill="#f23645"/>
<rect x="1411" y="503" width="1" height="45" fill="#089981"/>
<rect x="1410" y="531" width="3" height="6" fill="#089981"/>
<rect x="1416" y="506" width="1" height="65" fill="#089981"/>
<rect x="1415" y="517" width="3" height="14" fill="#089981"/>
<rect x="1420" y="499" width="1" height="135" fill="#f23645"/>
<rect x="1419" y="517" width="3" height="97" fill="#f23645"/>
<rect x="1425" y="598" width="1" height="42" fill="#f23645"/>
<rect x="1424" y="613" width="3" height="4" fill="#f23645"/>
<rect x="1430" y="584" width="1" height="41" fill="#089981"/>
<rect x="1429" y="611" width="3" height="6" fill="#089981"/>
<rect x="1435" y="607" width="1" height="150" fill="#f23645"/>
<rect x="1434" y="610" width="3" height="84" fill="#f23645"/>
<rect x="1439" y="637" width="1" height="93" fill="#089981"/>
<rect x="1438" y="670" width="3" height="25" fill="#089981"/>
<rect x="1444" y="639" width="1" height="37" fill="#089981"/>
<rect x="1443" y="670" width="3" height="1" fill="#089981"/>
<rect x="1449" y="644" width="1" height="29" fill="#089981"/>
<rect x="1448" y="658" width="3" height="13" fill="#089981"/>
<rect x="1454" y="637" width="1" height="26" fill="#089981"/>
<rect x="1453" y="646" width="3" height="12" fill="#089981"/>
<rect x="1458" y="644" width="1" height="24" fill="#f23645"/>
<rect x="1457" y="646" width="3" height="11" fill="#f23645"/>
<rect x="1463" y="644" width="1" height="17" fill="#089981"/>
<rect x="1462" y="647" width="3" height="10" fill="#089981"/>
<rect x="1468" y="642" width="1" height="19" fill="#f23645"/>
<rect x="1467" y="647" width="3" height="10" fill="#f23645"/>
<rect x="1473" y="615" width="1" height="65" fill="#089981"/>
<rect x="1472" y="629" width="3" height="28" fill="#089981"/>
<rect x="1478" y="578" width="1" height="63" fill="#089981"/>
<rect x="1477" y="587" width="3" height="42" fill="#089981"/>
<rect x="1482" y="577" width="1" height="30" fill="#f23645"/>
<rect x="1481" y="587" width="3" height="16" fill="#f23645"/>
<rect x="1487" y="526" width="1" height="114" fill="#089981"/>
<rect x="1486" y="528" width="3" height="75" fill="#089981"/>
<rect x="1492" y="510" width="1" height="29" fill="#f23645"/>
<rect x="1491" y="528" width="3" height="1" fill="#f23645"/>
<rect x="1497" y="508" width="1" height="57" fill="#f23645"/>
<rect x="1496" y="529" width="3" height="22" fill="#f23645"/>
<rect x="1501" y="521" width="1" height="33" fill="#089981"/>
<rect x="1500" y="543" width="3" height="10" fill="#089981"/>
<rect x="1506" y="543" width="1" height="96" fill="#f23645"/>
<rect x="1505" y="543" width="3" height="94" fill="#f23645"/>
<rect x="1511" y="597" width="1" height="40" fill="#089981"/>
<rect x="1510" y="604" width="3" height="33" fill="#089981"/>
<rect x="1516" y="435" width="1" height="188" fill="#089981"/>
<rect x="1515" y="497" width="3" height="107" fill="#089981"/>
<rect x="1520" y="489" width="1" height="130" fill="#f23645"/>
<rect x="1519" y="498" width="3" height="114" fill="#f23645"/>
<rect x="1525" y="600" width="1" height="26" fill="#f23645"/>
<rect x="1524" y="613" width="3" height="3" fill="#f23645"/>
<rect x="1530" y="610" width="1" height="71" fill="#f23645"/>
<rect x="1529" y="615" width="3" height="21" fill="#f23645"/>
<rect x="1535" y="587" width="1" height="52" fill="#089981"/>
<rect x="1534" y="629" width="3" height="7" fill="#089981"/>
<rect x="1540" y="610" width="1" height="53" fill="#f23645"/>
<rect x="1539" y="629" width="3" height="7" fill="#f23645"/>
<rect x="1544" y="592" width="1" height="46" fill="#089981"/>
<rect x="1543" y="593" width="3" height="44" fill="#089981"/>
<rect x="1549" y="551" width="1" height="44" fill="#089981"/>
<rect x="1548" y="583" width="3" height="10" fill="#089981"/>
<rect x="1554" y="520" width="1" height="80" fill="#089981"/>
<rect x="1553" y="521" width="3" height="63" fill="#089981"/>
<rect x="1559" y="520" width="1" height="60" fill="#f23645"/>
<rect x="1558" y="521" width="3" height="38" fill="#f23645"/>
<rect x="1563" y="515" width="1" height="45" fill="#089981"/>
<rect x="1562" y="521" width="3" height="38" fill="#089981"/>
<rect x="1568" y="513" width="1" height="28" fill="#f23645"/>
<rect x="1567" y="522" width="3" height="5" fill="#f23645"/>
<rect x="1573" y="498" width="1" height="71" fill="#f23645"/>
<rect x="1572" y="527" width="3" height="27" fill="#f23645"/>
<rect x="1578" y="526" width="1" height="30" fill="#089981"/>
<rect x="1577" y="529" width="3" height="25" fill="#089981"/>
<rect x="1582" y="517" width="1" height="22" fill="#089981"/>
<rect x="1581" y="518" width="3" height="11" fill="#089981"/>
<rect x="1587" y="505" width="1" height="16" fill="#089981"/>
<rect x="1586" y="512" width="3" height="7" fill="#089981"/>
<rect x="1592" y="501" width="1" height="23" fill="#f23645"/>
<rect x="1591" y="512" width="3" height="7" fill="#f23645"/>
<rect x="1597" y="508" width="1" height="12" fill="#089981"/>
<rect x="1596" y="510" width="3" height="9" fill="#089981"/>
<rect x="1601" y="503" width="1" height="18" fill="#f23645"/>
<rect x="1600" y="510" width="3" height="1" fill="#f23645"/>
<rect x="1606" y="456" width="1" height="56" fill="#089981"/>
<rect x="1605" y="460" width="3" height="52" fill="#089981"/>
<rect x="1611" y="438" width="1" height="23" fill="#089981"/>
<rect x="1610" y="455" width="3" height="6" fill="#089981"/>
<rect x="1616" y="393" width="1" height="78" fill="#089981"/>
<rect x="1615" y="421" width="3" height="34" fill="#089981"/>
<rect x="1621" y="388" width="1" height="38" fill="#089981"/>
<rect x="1620" y="390" width="3" height="31" fill="#089981"/>
<rect x="1625" y="365" width="1" height="47" fill="#f23645"/>
<rect x="1624" y="390" width="3" height="6" fill="#f23645"/>
<rect x="1630" y="394" width="1" height="13" fill="#f23645"/>
<rect x="1629" y="396" width="3" height="6" fill="#f23645"/>
</g>
</svg>
<div id="dots"></div>
<div id="plabel"></div>
<svg width="1814" height="867" viewBox="0 0 1814 867">
<!-- tradingview logo mark -->
<g fill="#161616">
<path d="M15.6,819.5 H30.8 V837.7 H23.2 V826.8 H15.6 Z"/>
<circle cx="36.5" cy="822.7" r="3.4"/>
<path d="M43.2,819.5 H52.9 L46.8,837.7 H37.1 Z"/>
</g>
<!-- lightning icon -->
<g fill="none" stroke="#8a3fb0" stroke-width="1.5" stroke-linecap="round">
<path d="M1619.2,736.2 A12.1,12.1 0 0 1 1634.6,728.9"/>
<path d="M1642.6,736.6 A12.1,12.1 0 0 1 1621.9,748.7"/>
</g>
<path d="M1634.2,733.6 L1626,741.3 L1631.4,741.3 L1627.2,747.4 L1635.6,739.6 L1630.6,739.6 Z" fill="#8a3fb0"/>
<circle cx="1639.3" cy="731.8" r="3.1" fill="#f23645"/>
<path d="M1617.4,738.9 Q1618,744.5 1623.6,745.1 Q1618,745.7 1617.4,751.3 Q1616.8,745.7 1611.2,745.1 Q1616.8,744.5 1617.4,738.9 Z" fill="#4a79e0"/>
<!-- flags -->
<defs><clipPath id="fc"><circle r="9.8"/></clipPath></defs>
<g transform="translate(1706.2,740.5)">
<circle r="12.2" fill="#fff" stroke="#f23645" stroke-width="1.3"/>
<g clip-path="url(#fc)">
<rect x="-10" y="-10" width="20" height="20" fill="#fff"/>
<rect x="-10" y="-9.2" width="20" height="2.4" fill="#f23645"/>
<rect x="-10" y="-4.0" width="20" height="2.4" fill="#f23645"/>
<rect x="-10" y="1.4" width="20" height="2.6" fill="#f23645"/>
<rect x="-10" y="6.6" width="20" height="2.4" fill="#f23645"/>
<rect x="-10" y="-10" width="13" height="12" fill="#4a79e0"/>
<g fill="#dfe8fb"><rect x="-7" y="-7" width="1" height="1"/><rect x="-4" y="-7" width="1" height="1"/><rect x="-1" y="-7" width="1" height="1"/><rect x="-7" y="-4" width="1" height="1"/><rect x="-4" y="-4" width="1" height="1"/><rect x="-1" y="-4" width="1" height="1"/><rect x="-7" y="-1" width="1" height="1"/><rect x="-4" y="-1" width="1" height="1"/><rect x="-1" y="-1" width="1" height="1"/></g>
</g>
</g>
<g transform="translate(1686.8,740.5)">
<circle r="12.2" fill="#fff" stroke="#f23645" stroke-width="1.3"/>
<g clip-path="url(#fc)">
<rect x="-10" y="-10" width="20" height="20" fill="#fff"/>
<rect x="-10" y="-9.2" width="20" height="2.4" fill="#f23645"/>
<rect x="-10" y="-4.0" width="20" height="2.4" fill="#f23645"/>
<rect x="-10" y="1.4" width="20" height="2.6" fill="#f23645"/>
<rect x="-10" y="6.6" width="20" height="2.4" fill="#f23645"/>
<rect x="-10" y="-10" width="13" height="12" fill="#4a79e0"/>
<g fill="#dfe8fb"><rect x="-7" y="-7" width="1" height="1"/><rect x="-4" y="-7" width="1" height="1"/><rect x="-1" y="-7" width="1" height="1"/><rect x="-7" y="-4" width="1" height="1"/><rect x="-4" y="-4" width="1" height="1"/><rect x="-1" y="-4" width="1" height="1"/><rect x="-7" y="-1" width="1" height="1"/><rect x="-4" y="-1" width="1" height="1"/><rect x="-1" y="-1" width="1" height="1"/></g>
</g>
</g>
<g transform="translate(1671.9,740.5)">
<circle r="12.2" fill="#fff" stroke="#f23645" stroke-width="1.3"/>
<g clip-path="url(#fc)">
<rect x="-10" y="-10" width="20" height="20" fill="#fff"/>
<rect x="-10" y="-9.2" width="20" height="2.4" fill="#f23645"/>
<rect x="-10" y="-4.0" width="20" height="2.4" fill="#f23645"/>
<rect x="-10" y="1.4" width="20" height="2.6" fill="#f23645"/>
<rect x="-10" y="6.6" width="20" height="2.4" fill="#f23645"/>
<rect x="-10" y="-10" width="13" height="12" fill="#4a79e0"/>
<g fill="#dfe8fb"><rect x="-7" y="-7" width="1" height="1"/><rect x="-4" y="-7" width="1" height="1"/><rect x="-1" y="-7" width="1" height="1"/><rect x="-7" y="-4" width="1" height="1"/><rect x="-4" y="-4" width="1" height="1"/><rect x="-1" y="-4" width="1" height="1"/><rect x="-7" y="-1" width="1" height="1"/><rect x="-4" y="-1" width="1" height="1"/><rect x="-1" y="-1" width="1" height="1"/></g>
</g>
</g>
</svg>
<div id="tclip"><div class="t" id="hdr" style="left:13.0px;top:4.83px;font-size:15px;line-height:30px;height:30px;color:#131722;transform-origin:0 50%;transform:scaleX(0.9955);">BitcoinMaximus1 created with TradingView.com, Oct 27, 2025 14:10 UTC+1</div>
<div class="t" id="leg" style="left:23.0px;top:38.53px;font-size:15px;line-height:30px;height:30px;color:#131722;transform-origin:0 50%;transform:scaleX(1.0360);">Bitcoin / U.S. Dollar · 6h · Bitstamp</div>
<div class="t" id="lo" style="left:271.9px;top:38.53px;font-size:15px;line-height:30px;height:30px;color:#131722;transform-origin:0 50%;transform:scaleX(0.9200);">O</div>
<div class="t" id="lov" style="left:283.5px;top:38.53px;font-size:15px;line-height:30px;height:30px;color:#f23645;transform-origin:0 50%;transform:scaleX(0.9450);">115,358</div>
<div class="t" id="lh" style="left:343.8px;top:38.53px;font-size:15px;line-height:30px;height:30px;color:#131722;transform-origin:0 50%;transform:scaleX(0.9200);">H</div>
<div class="t" id="lhv" style="left:355.2px;top:38.53px;font-size:15px;line-height:30px;height:30px;color:#f23645;transform-origin:0 50%;transform:scaleX(0.9450);">115,440</div>
<div class="t" id="ll" style="left:416px;top:38.53px;font-size:15px;line-height:30px;height:30px;color:#131722;transform-origin:0 50%;transform:scaleX(0.9200);">L</div>
<div class="t" id="llv" style="left:424.6px;top:38.53px;font-size:15px;line-height:30px;height:30px;color:#f23645;transform-origin:0 50%;transform:scaleX(0.9450);">115,009</div>
<div class="t" id="lc" style="left:484.8px;top:38.53px;font-size:15px;line-height:30px;height:30px;color:#131722;transform-origin:0 50%;transform:scaleX(0.9200);">C</div>
<div class="t" id="lcv" style="left:495.2px;top:38.53px;font-size:15px;line-height:30px;height:30px;color:#f23645;transform-origin:0 50%;transform:scaleX(0.9450);">115,207</div>
<div class="t" id="lch" style="left:556px;top:38.53px;font-size:15px;line-height:30px;height:30px;color:#f23645;transform-origin:0 50%;transform:scaleX(0.9450);">−152 (−0.13%)</div>
<div class="t" id="usd" style="left:1735.3px;top:39.23px;font-size:15px;line-height:30px;height:30px;color:#131722;transform-origin:0 50%;transform:scaleX(0.8800);">USD</div>
<div class="t" id="p0" style="left:1730.3px;top:113.33px;font-size:15px;line-height:30px;height:30px;color:#131722;transform-origin:0 50%;transform:scaleX(0.9660);">124,000</div>
<div class="t" id="p1" style="left:1730.3px;top:175.01px;font-size:15px;line-height:30px;height:30px;color:#131722;transform-origin:0 50%;transform:scaleX(0.9660);">122,000</div>
<div class="t" id="p2" style="left:1730.3px;top:236.69px;font-size:15px;line-height:30px;height:30px;color:#131722;transform-origin:0 50%;transform:scaleX(0.9660);">120,000</div>
<div class="t" id="p3" style="left:1730.3px;top:298.38px;font-size:15px;line-height:30px;height:30px;color:#131722;transform-origin:0 50%;transform:scaleX(0.9660);">118,000</div>
<div class="t" id="p4" style="left:1730.3px;top:360.06px;font-size:15px;line-height:30px;height:30px;color:#131722;transform-origin:0 50%;transform:scaleX(0.9660);">116,000</div>
<div class="t" id="p5" style="left:1730.3px;top:421.74px;font-size:15px;line-height:30px;height:30px;color:#131722;transform-origin:0 50%;transform:scaleX(0.9660);">114,000</div>
<div class="t" id="p6" style="left:1730.3px;top:483.42px;font-size:15px;line-height:30px;height:30px;color:#131722;transform-origin:0 50%;transform:scaleX(0.9660);">112,000</div>
<div class="t" id="p7" style="left:1730.3px;top:545.10px;font-size:15px;line-height:30px;height:30px;color:#131722;transform-origin:0 50%;transform:scaleX(0.9660);">110,000</div>
<div class="t" id="p8" style="left:1730.3px;top:606.77px;font-size:15px;line-height:30px;height:30px;color:#131722;transform-origin:0 50%;transform:scaleX(0.9660);">108,000</div>
<div class="t" id="p9" style="left:1730.3px;top:668.45px;font-size:15px;line-height:30px;height:30px;color:#131722;transform-origin:0 50%;transform:scaleX(0.9660);">106,000</div>
<div class="t" id="p10" style="left:1730.3px;top:730.13px;font-size:15px;line-height:30px;height:30px;color:#131722;transform-origin:0 50%;transform:scaleX(0.9660);">104,000</div>
<div class="t" id="tnov" style="left:1702.6px;top:759.23px;font-size:15px;line-height:30px;height:30px;color:#131722;font-weight:bold;">Nov</div>
<div class="t" id="t5" style="left:38.0315px;top:759.23px;font-size:15px;line-height:30px;height:30px;color:#131722;transform:translateX(-50%) scaleX(0.945);">5</div>
<div class="t" id="t21" style="left:114.29230000000001px;top:759.23px;font-size:15px;line-height:30px;height:30px;color:#131722;transform:translateX(-50%) scaleX(0.945);">9</div>
<div class="t" id="t37" style="left:190.5531px;top:759.23px;font-size:15px;line-height:30px;height:30px;color:#131722;transform:translateX(-50%) scaleX(0.945);">13</div>
<div class="t" id="t53" style="left:266.8139px;top:759.23px;font-size:15px;line-height:30px;height:30px;color:#131722;transform:translateX(-50%) scaleX(0.945);">17</div>
<div class="t" id="t69" style="left:343.0747px;top:759.23px;font-size:15px;line-height:30px;height:30px;color:#131722;transform:translateX(-50%) scaleX(0.945);">21</div>
<div class="t" id="t85" style="left:419.3355px;top:759.23px;font-size:15px;line-height:30px;height:30px;color:#131722;transform:translateX(-50%) scaleX(0.945);">25</div>
<div class="t" id="t113" style="left:552.7919px;top:759.23px;font-size:15px;line-height:30px;height:30px;color:#131722;font-weight:bold;transform:translateX(-50%) scaleX(0.945);">Sep</div>
<div class="t" id="t129" style="left:629.0527000000001px;top:759.23px;font-size:15px;line-height:30px;height:30px;color:#131722;transform:translateX(-50%) scaleX(0.945);">5</div>
<div class="t" id="t145" style="left:705.3135000000001px;top:759.23px;font-size:15px;line-height:30px;height:30px;color:#131722;transform:translateX(-50%) scaleX(0.945);">9</div>
<div class="t" id="t161" style="left:781.5743000000001px;top:759.23px;font-size:15px;line-height:30px;height:30px;color:#131722;transform:translateX(-50%) scaleX(0.945);">13</div>
<div class="t" id="t177" style="left:857.8351000000001px;top:759.23px;font-size:15px;line-height:30px;height:30px;color:#131722;transform:translateX(-50%) scaleX(0.945);">17</div>
<div class="t" id="t193" style="left:934.0959px;top:759.23px;font-size:15px;line-height:30px;height:30px;color:#131722;transform:translateX(-50%) scaleX(0.945);">21</div>
<div class="t" id="t209" style="left:1010.3567px;top:759.23px;font-size:15px;line-height:30px;height:30px;color:#131722;transform:translateX(-50%) scaleX(0.945);">25</div>
<div class="t" id="t233" style="left:1124.7479px;top:759.23px;font-size:15px;line-height:30px;height:30px;color:#131722;font-weight:bold;transform:translateX(-50%) scaleX(0.945);">Oct</div>
<div class="t" id="t249" style="left:1201.0087px;top:759.23px;font-size:15px;line-height:30px;height:30px;color:#131722;transform:translateX(-50%) scaleX(0.945);">5</div>
<div class="t" id="t265" style="left:1277.2695px;top:759.23px;font-size:15px;line-height:30px;height:30px;color:#131722;transform:translateX(-50%) scaleX(0.945);">9</div>
<div class="t" id="t281" style="left:1353.5303000000001px;top:759.23px;font-size:15px;line-height:30px;height:30px;color:#131722;transform:translateX(-50%) scaleX(0.945);">13</div>
<div class="t" id="t297" style="left:1429.7911000000001px;top:759.23px;font-size:15px;line-height:30px;height:30px;color:#131722;transform:translateX(-50%) scaleX(0.945);">17</div>
<div class="t" id="t313" style="left:1506.0519000000002px;top:759.23px;font-size:15px;line-height:30px;height:30px;color:#131722;transform:translateX(-50%) scaleX(0.945);">21</div>
<div class="t" id="t329" style="left:1582.3127000000002px;top:759.23px;font-size:15px;line-height:30px;height:30px;color:#131722;transform:translateX(-50%) scaleX(0.945);">25</div>
<div class="t" id="plv" style="left:1731.2px;top:385.63px;font-size:15px;line-height:30px;height:30px;color:#ffffff;transform-origin:0 50%;transform:scaleX(0.9750);">115,207</div>
<div class="t" id="plt" style="left:1730.4px;top:403.63px;font-size:15px;line-height:30px;height:30px;color:rgba(255,255,255,0.72);transform-origin:0 50%;transform:scaleX(1.0080);">04:49:17</div>
<div class="t" id="call" style="left:759.9px;top:225.84px;font-size:15px;line-height:30px;height:30px;color:#1c1c1c;transform-origin:0 50%;transform:scaleX(0.9970);">Last fed meeting?</div>
<div class="t" id="logo" style="left:62.2px;top:803.70px;font-size:24.8px;line-height:49.6px;height:49.6px;color:#161616;font-weight:bold;transform-origin:0 50%;transform:scaleX(1.0248);">TradingView</div></div>
</body></html>
